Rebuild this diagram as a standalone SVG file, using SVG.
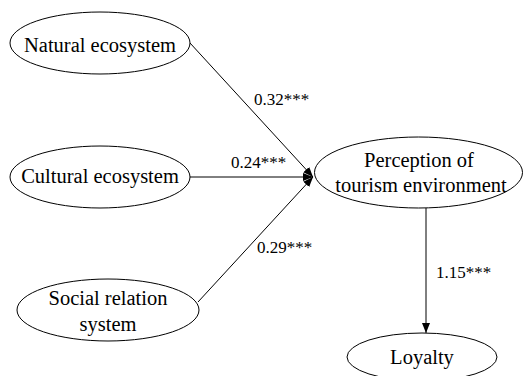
<svg xmlns="http://www.w3.org/2000/svg" width="523" height="376" viewBox="0 0 523 376">
<style>
.node ellipse{fill:#fff;stroke:#000;stroke-width:1}
.node text{font-family:'Liberation Serif','Times New Roman','DejaVu Serif',serif;font-size:20.5px;fill:#000;text-anchor:middle}
.edge line{stroke:#000;stroke-width:1}
.lbl{font-family:'Liberation Serif','Times New Roman','DejaVu Serif',serif;font-size:17px;fill:#000}
</style>
<defs>
<marker id="ah" markerWidth="10" markerHeight="8" refX="10" refY="4" orient="auto" markerUnits="userSpaceOnUse">
<path d="M0,0 L10,4 L0,8 z" fill="#000"/>
</marker>
</defs>
<rect width="523" height="376" fill="#fff"/>
<g id="connectors" class="edge">
<line x1="190" y1="43" x2="313" y2="177" marker-end="url(#ah)"/>
<line x1="190" y1="177" x2="313" y2="177" marker-end="url(#ah)"/>
<line x1="198" y1="302" x2="313" y2="177" marker-end="url(#ah)"/>
<line x1="426" y1="208" x2="426" y2="333" marker-end="url(#ah)"/>
<text class="lbl" x="254" y="105">0.32***</text>
<text class="lbl" x="231" y="168">0.24***</text>
<text class="lbl" x="257" y="253">0.29***</text>
<text class="lbl" x="436" y="278">1.15***</text>
</g>
<g id="natural" class="node">
<ellipse cx="100" cy="43" rx="90" ry="31"/>
<text x="100" y="52">Natural ecosystem</text>
</g>
<g id="cultural" class="node">
<ellipse cx="100" cy="177" rx="90" ry="31"/>
<text x="100" y="183">Cultural ecosystem</text>
</g>
<g id="social" class="node">
<ellipse cx="108" cy="310" rx="91" ry="31"/>
<text x="108" y="305">Social relation</text>
<text x="108" y="331">system</text>
</g>
<g id="perception" class="node">
<ellipse cx="418.5" cy="172.5" rx="104" ry="35.5"/>
<text x="419" y="167">Perception of</text>
<text x="421" y="192">tourism environment</text>
</g>
<g id="loyalty" class="node">
<ellipse cx="422" cy="357" rx="75" ry="24"/>
<text x="422" y="364">Loyalty</text>
</g>
</svg>
